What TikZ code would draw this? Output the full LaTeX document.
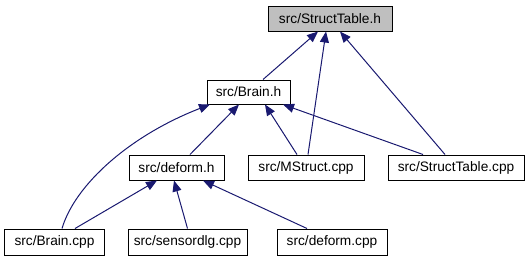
\documentclass[tikz,border=0pt]{standalone}
\usepackage{fontspec}
\setmainfont{Liberation Sans}
\usetikzlibrary{arrows.meta}
\definecolor{edgeblue}{HTML}{191970}
\definecolor{rootgray}{HTML}{BFBFBF}
\begin{document}
\begin{tikzpicture}[x=1bp,y=-1bp,
  file/.style={draw=black,line width=1bp,fill=white,inner sep=0pt,
    minimum height=25bp,font=\fontsize{13.7bp}{16bp}\selectfont},
  root/.style={file,fill=rootgray},
  dep/.style={draw=edgeblue,line width=1bp,
    -{Triangle[length=11bp,width=9bp]}}]
\useasboundingbox (0,0) rectangle (529,261);
% files
\node[root,minimum width=124bp] (sth)      at (330,18.5)  {src/StructTable.h};
\node[file,minimum width=83bp,minimum height=24bp] (brainh) at (248.5,92) {src/Brain.h};
\node[file,minimum width=95bp]  (deformh)  at (176.5,167.5) {src/deform.h};
\node[file,minimum width=116bp] (mstruct)  at (306,167.5)   {src/MStruct.cpp};
\node[file,minimum width=136bp] (stcpp)    at (456,167.5)   {src/StructTable.cpp};
\node[file,minimum width=99bp,minimum height=26bp]  (braincpp) at (54.5,242) {src/Brain.cpp};
\node[file,minimum width=119bp,minimum height=26bp] (sensor)   at (187.5,242) {src/sensordlg.cpp};
\node[file,minimum width=110bp,minimum height=26bp] (deformcpp) at (332,242) {src/deform.cpp};
% include dependencies
\draw[dep] ([xshift=14.5bp]brainh.north) -- ([xshift=-12bp]sth.south);
\draw[dep] ([xshift=2bp]mstruct.north) -- ([xshift=-4bp]sth.south);
\draw[dep] ([xshift=-11bp]stcpp.north) -- ([xshift=10bp]sth.south);
\draw[dep] ([xshift=13.5bp]deformh.north) -- ([xshift=-9.5bp]brainh.south);
\draw[dep] ([xshift=-9bp]mstruct.north) -- ([xshift=16.5bp]brainh.south);
\draw[dep] ([xshift=-33bp]stcpp.north) -- ([xshift=34.5bp]brainh.south);
\draw[dep] ([xshift=7.5bp]braincpp.north) .. controls +(13,-44) and +(-80,31) .. ([xshift=-38.5bp]brainh.south);
\draw[dep] ([xshift=20.5bp]braincpp.north) -- ([xshift=-19.5bp]deformh.south);
\draw[dep] (sensor.north) -- ([xshift=-2.5bp]deformh.south);
\draw[dep] ([xshift=-25bp]deformcpp.north) -- ([xshift=26.5bp]deformh.south);
\end{tikzpicture}
\end{document}
